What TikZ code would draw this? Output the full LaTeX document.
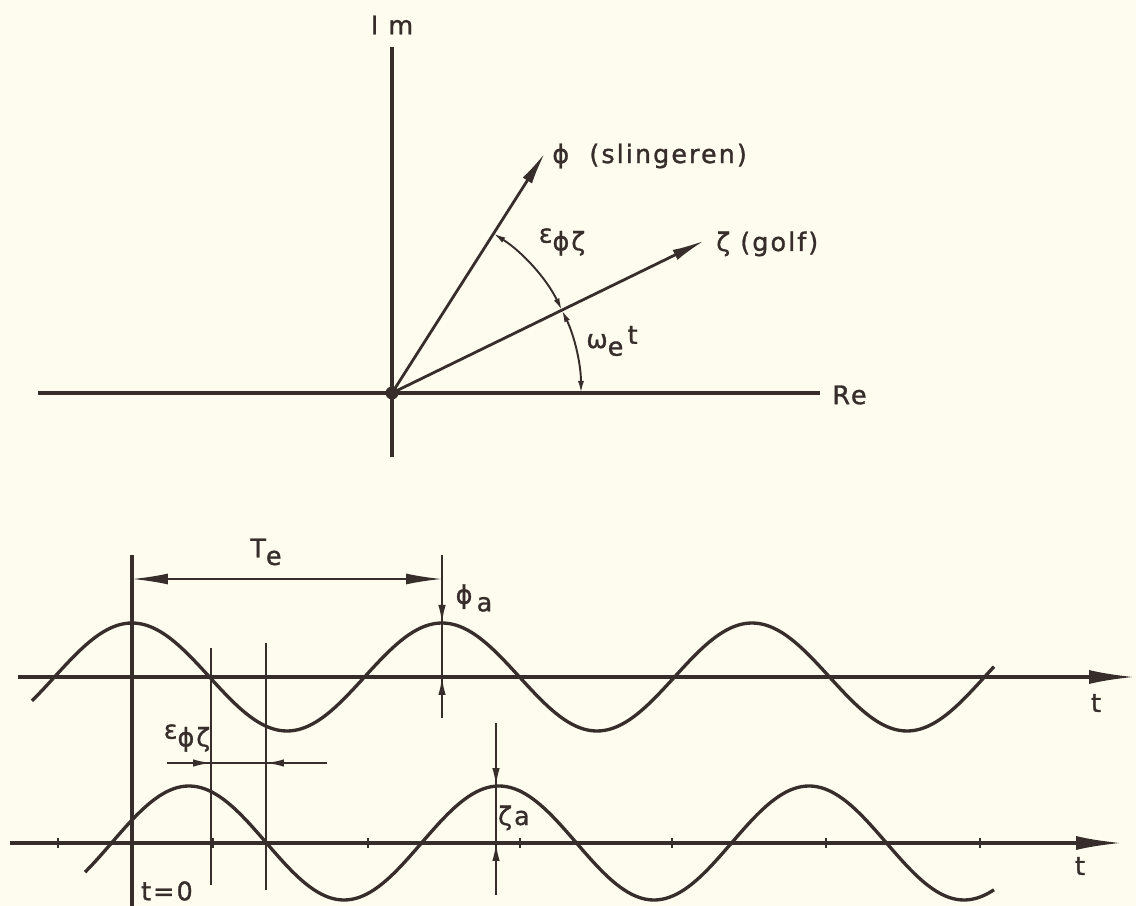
\documentclass[tikz,border=0pt]{standalone}
\usepackage{fontspec}
\setmainfont{DejaVu Sans}[LetterSpace=8,FakeBold=1.2]
\usetikzlibrary{arrows.meta}

\definecolor{paper}{RGB}{253,252,238}
\definecolor{ink}{RGB}{55,46,44}
\newcommand{\lowr}[1]{\raisebox{-0.55ex}{#1}}

\begin{document}
\begin{tikzpicture}[
    x=0.02cm, y=0.02cm,
    color=ink,
    axis/.style={
        line width=1.9pt
    },
    hair/.style={
        line width=1.1pt
    },
    wave/.style={
        line width=1.9pt,
        samples=160,
        smooth
    },
    vecarr/.style={
        line width=1.6pt,
        -{Latex[length=0.66cm,width=0.22cm]}
    },
    taxis/.style={
        line width=1.9pt,
        -{Latex[length=0.92cm,width=0.28cm]}
    },
    arcarr/.style={
        line width=1.1pt,
        {Latex[length=0.24cm,width=0.12cm]}-{Latex[length=0.24cm,width=0.12cm]}
    },
    tip/.style={
        line width=1.1pt,
        -{Latex[length=0.36cm,width=0.15cm]}
    },
    lbl/.style={
        font=\fontsize{14.5}{16}\selectfont,
        inner sep=0pt
    }
]
    \fill[paper] (0,0) rectangle (1136,906);
    \useasboundingbox (0,0) rectangle (1136,906);

    % complex plane
    \coordinate (O) at (392,513);
    \coordinate (imbot) at (392,449);
    \coordinate (imtop) at (392,859);
    \coordinate (releft) at (38,513);
    \coordinate (reright) at (820,513);
    \coordinate (phitip) at ([shift={(57.5:285)}]O);
    \coordinate (zetatip) at ([shift={(26:348)}]O);

    \draw[axis] (imbot) -- (imtop);
    \draw[axis] (releft) -- (reright);
    \fill (O) circle (6.5);

    \node[lbl] (im) at (392,881) {I m};
    \node[lbl, anchor=west] (re) at (832,511) {Re};

    \draw[vecarr] (O) -- (phitip);
    \draw[vecarr] (O) -- (zetatip);

    \node[lbl, anchor=west] (philbl) at (552,750) {ϕ\ \ (slingeren)};
    \node[lbl, anchor=west] (zetalbl) at (716,662) {ζ (golf)};

    \draw[arcarr] ([shift={(57.5:189)}]O) arc[start angle=57.5, end angle=26, radius=189];
    \draw[arcarr] ([shift={(26:189)}]O) arc[start angle=26, end angle=0, radius=189];

    \node[lbl] (epslbl) at (562,664) {ε\lowr{ϕζ}};
    \node[lbl] (omlbl) at (612,565) {ω\lowr{e}\,\raisebox{0.3ex}{t}};

    % time signals
    \coordinate (upL) at (18,229);
    \coordinate (upR) at (1135,229);
    \coordinate (loL) at (10,63);
    \coordinate (loR) at (1122,63);

    \draw[taxis] (upL) -- (upR);
    \draw[taxis] (loL) -- (loR);
    \node[lbl] (tup) at (1096,203) {t};
    \node[lbl] (tlo) at (1080,40) {t};

    \foreach \tx in {58,213,368,520,672,826,980}
        \draw[hair] (\tx,58) -- (\tx,68);

    \draw[wave, domain=32:994] plot (\x, {229+54*cos(1.16129*(\x-132))});
    \draw[wave, domain=85:994] plot (\x, {63+57*cos(1.16129*(\x-189))});

    % period T_e
    \coordinate (zerotop) at (132,351);
    \coordinate (zerobot) at (132,0);
    \coordinate (periodtop) at (442,351);
    \coordinate (periodbot) at (442,188);
    \draw[axis] (zerotop) -- (zerobot);
    \draw[hair] (periodtop) -- (periodbot);

    \coordinate (teL) at (132,327);
    \coordinate (teR) at (442,327);
    \draw[hair, {Latex[length=0.72cm,width=0.22cm]}-{Latex[length=0.72cm,width=0.22cm]}]
        (teL) -- (teR);
    \node[lbl] (telbl) at (266,354) {T\lowr{e}};

    % amplitude phi
    \coordinate (phiabove) at (442,320);
    \coordinate (phipeak) at (442,283);
    \coordinate (phiunder) at (442,190);
    \coordinate (phiaxis) at (442,229);
    \draw[tip] (phiabove) -- (phipeak);
    \draw[tip] (phiunder) -- (phiaxis);
    \node[lbl] (phialbl) at (474,308) {ϕ\,\lowr{a}};

    % phase lag
    \coordinate (lagAtop) at (211,258);
    \coordinate (lagAbot) at (211,21);
    \coordinate (lagBtop) at (266,263);
    \coordinate (lagBbot) at (266,16);
    \draw[hair] (lagAtop) -- (lagAbot);
    \draw[hair] (lagBtop) -- (lagBbot);

    \coordinate (lagL) at (167,143);
    \coordinate (lagR) at (327,143);
    \coordinate (lagA) at (211,143);
    \coordinate (lagB) at (266,143);
    \draw[hair] (lagL) -- (lagR);
    \draw[tip] (lagL) -- (lagA);
    \draw[tip] (lagR) -- (lagB);
    \node[lbl] (laglbl) at (187,168) {ε\lowr{ϕζ}};

    % amplitude zeta
    \coordinate (zetaabove) at (496,183);
    \coordinate (zetapeak) at (496,120);
    \coordinate (zetaunder) at (496,11);
    \coordinate (zetaaxis) at (496,63);
    \draw[hair] (zetaabove) -- (zetaunder);
    \draw[tip] (zetaabove) -- (zetapeak);
    \draw[tip] (zetaunder) -- (zetaaxis);
    \node[lbl] (zetaalbl) at (514,88) {ζa};

    \node[lbl] (zerolbl) at (167,15) {t=0};
\end{tikzpicture}
\end{document}
